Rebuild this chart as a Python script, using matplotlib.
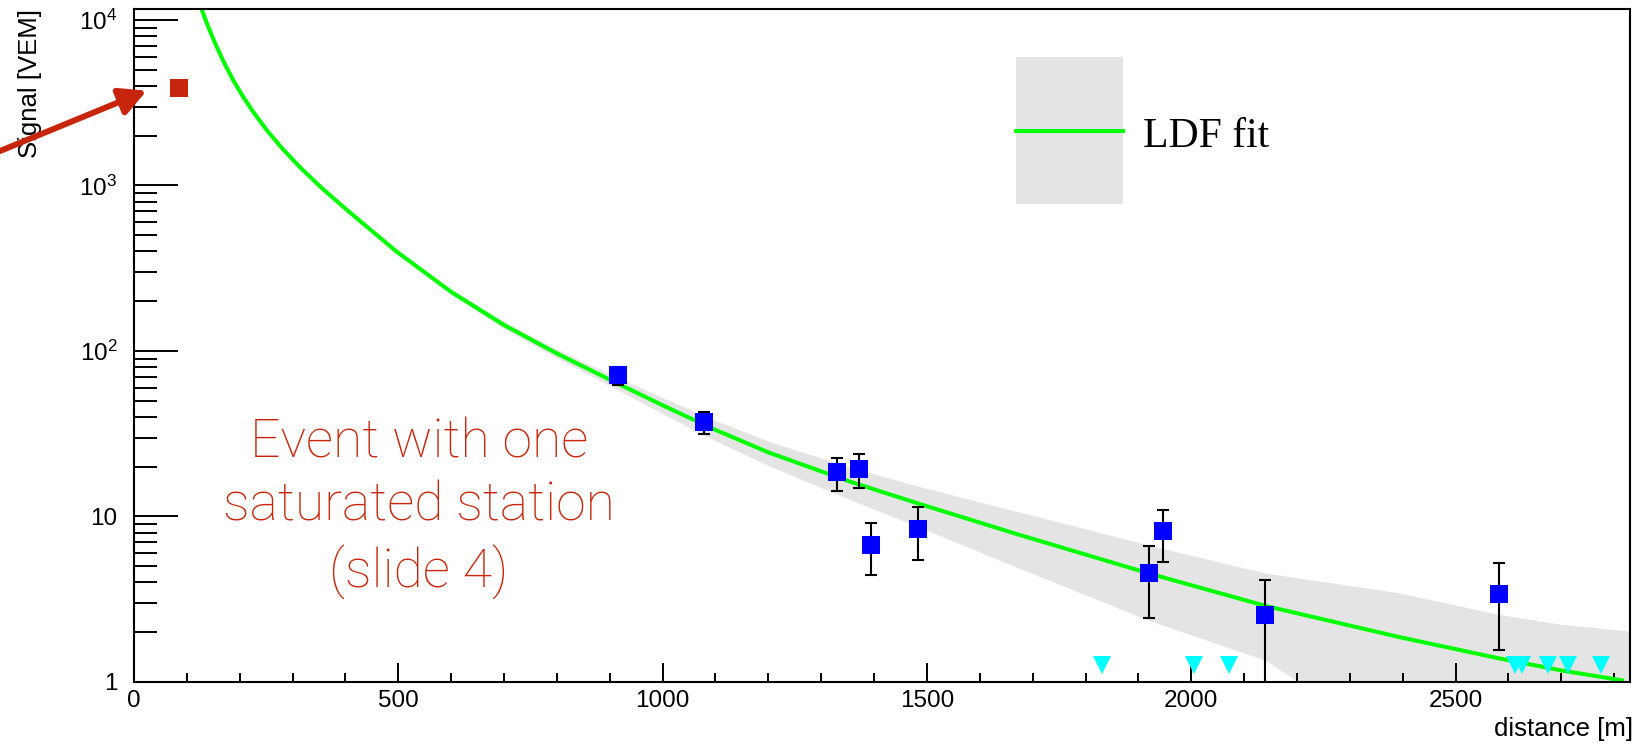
import matplotlib
matplotlib.use("Agg")
import matplotlib.pyplot as plt
from matplotlib.ticker import (FixedLocator, FixedFormatter, MultipleLocator,
                               LogLocator, NullFormatter)
from matplotlib.patches import Rectangle
from matplotlib.lines import Line2D

plt.rcParams['font.family'] = ['Liberation Sans', 'DejaVu Sans']
plt.rcParams['mathtext.fontset'] = 'custom'
plt.rcParams['mathtext.rm'] = 'Liberation Sans'
plt.rcParams['mathtext.it'] = 'Liberation Sans:italic'
plt.rcParams['mathtext.bf'] = 'Liberation Sans:bold'

RED = '#c8260c'

# triggered stations
dist = [915, 1079, 1330, 1371, 1395, 1484, 1921, 1947, 2139, 2583]
signal = [71.5, 37.2, 18.5, 19.4, 6.77, 8.43, 4.54, 8.16, 2.54, 3.42]
signal_err = [9.0, 5.8, 4.2, 4.5, 2.35, 2.95, 2.1, 2.85, 1.6, 1.85]

# saturated station
sat_dist = [85]
sat_signal = [3900]

# silent stations
silent_dist = [1831, 2006, 2072, 2613, 2626, 2675, 2713, 2776]
silent_signal = [1.27, 1.27, 1.27, 1.27, 1.27, 1.27, 1.27, 1.27]

# LDF fit curve
fit_dist = [128, 140, 155, 170, 187, 205, 225, 251, 280, 314, 355, 400, 450,
            497, 600, 700, 800, 900, 1000, 1095, 1200, 1353, 1492, 1669, 1800,
            1921, 2141, 2393, 2582, 2700, 2815]
fit_signal = [11588, 9162, 7047, 5559, 4365, 3491, 2799, 2163, 1679, 1288, 966,
              724, 531, 398, 227.5, 143.5, 96.6, 67.1, 47.0, 33.9, 24.4, 16.3,
              11.75, 7.85, 5.89, 4.52, 2.88, 1.87, 1.39, 1.175, 1.023]

# fit uncertainty band
band_dist = [600, 700, 800, 900, 1000, 1095, 1200, 1353, 1492, 1669, 1800, 1921,
             2141, 2393, 2582, 2700, 2830]
band_lo = [218.4, 136.3, 90.8, 61.7, 41.8, 29.2, 20.3, 12.7, 8.46, 4.95, 3.36,
           2.35, 1.35, 0.4, 0.22, 0.12, 0.02]
band_hi = [236.6, 150.7, 102.4, 72.5, 52.2, 38.6, 28.5, 19.9, 15.0, 10.75, 8.42,
           6.69, 4.55, 3.46, 2.56, 2.23, 2.03]

ytick_vals = [1, 10, 100, 1000, 10000]
ytick_labels = ['1', '10', r'$\mathregular{10^{2}}$', r'$\mathregular{10^{3}}$',
                r'$\mathregular{10^{4}}$']

fig = plt.figure(figsize=(16.4, 7.48), dpi=100)
ax = fig.add_axes([134 / 1640, 1 - 682 / 748, 1496 / 1640, 672.7 / 748])

ax.fill_between(band_dist, band_lo, band_hi, color='#e4e4e4', lw=0, zorder=1)
ax.plot(fit_dist, fit_signal, color='#00ff00', lw=2.9, zorder=2)
ax.errorbar(dist, signal, yerr=signal_err, fmt='none', ecolor='black',
            elinewidth=1.5, capsize=4.3, capthick=1.5, zorder=3)
ax.plot(dist, signal, 's', color='#0000ff', ms=13, mew=0, zorder=4)
ax.plot(sat_dist, sat_signal, 's', color=RED, ms=13, mew=0, zorder=4)
ax.plot(silent_dist, silent_signal, 'v', color='#00ffff', ms=12.5, mew=0,
        zorder=5)

ax.set_xlim(0, 2830)
ax.set_yscale('log')
ax.set_ylim(1, 11600)

ax.xaxis.set_major_locator(MultipleLocator(500))
ax.xaxis.set_minor_locator(MultipleLocator(100))
ax.yaxis.set_major_locator(FixedLocator(ytick_vals))
ax.yaxis.set_major_formatter(FixedFormatter(ytick_labels))
ax.yaxis.set_minor_locator(LogLocator(base=10, subs=range(2, 10), numticks=20))
ax.yaxis.set_minor_formatter(NullFormatter())

ax.tick_params(axis='x', which='major', direction='in', length=13.7, width=1.4,
               pad=5.5, labelsize=17.5, top=False)
ax.tick_params(axis='x', which='minor', direction='in', length=6.8, width=1.4,
               top=False)
ax.tick_params(axis='y', which='major', direction='in', length=32, width=1.4,
               pad=12, labelsize=17.5, right=False)
ax.tick_params(axis='y', which='minor', direction='in', length=16.5, width=1.4,
               right=False)
for s in ax.spines.values():
    s.set_linewidth(1.5)

ax.set_xlabel('distance [m]', fontsize=18.5, loc='right')
ax.xaxis.set_label_coords(1.002, -0.052)
ax.set_ylabel('Signal [VEM]', fontsize=18.5, loc='top')
ax.yaxis.set_label_coords(-0.0615, 1.0)

# legend box (ROOT style)
ax.add_patch(Rectangle((0.5896, 0.7106), 0.0713, 0.2181, transform=ax.transAxes,
                       color='#e4e4e4', lw=0, zorder=6))
ax.add_line(Line2D([0.5896, 0.6609], [0.8195, 0.8195], transform=ax.transAxes,
                   color='#00ff00', lw=2.9, zorder=7))
ax.text(0.6745, 0.7957, 'LDF fit', transform=ax.transAxes, fontsize=30,
        family=['Liberation Serif', 'DejaVu Serif'], va='baseline')

# slide annotation
ax.text(0.1905, 0.1408, 'Event with one\nsaturated station\n(slide 4)',
        transform=ax.transAxes, ha='center', va='baseline', ma='center',
        fontsize=38.5, color=RED, family=['Roboto', 'Liberation Sans'],
        fontweight='light', linespacing=1.3, zorder=8)
ax.annotate('', xy=(0.0894, 0.8787), xytext=(0.0, 0.7981),
            xycoords='figure fraction', textcoords='figure fraction',
            arrowprops=dict(arrowstyle='-|>,head_length=0.8,head_width=0.42',
                            color=RED, lw=4.3, mutation_scale=20,
                            shrinkA=0, shrinkB=0),
            annotation_clip=False)

fig.savefig('out.png', dpi=100, facecolor='white')
